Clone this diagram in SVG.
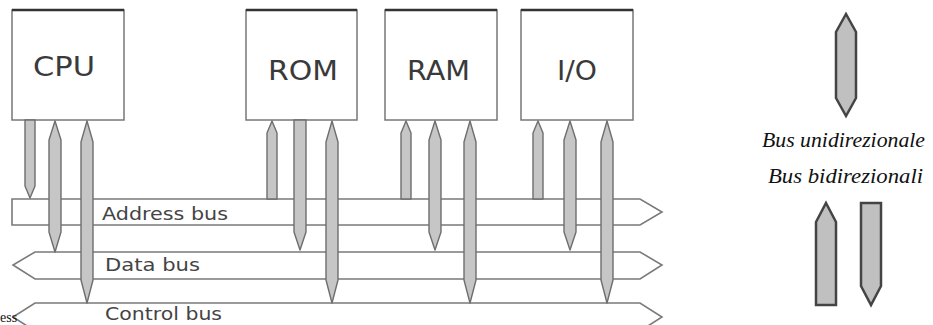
<svg xmlns="http://www.w3.org/2000/svg" width="933" height="325" viewBox="0 0 933 325">
<style>
.box{fill:#fff;stroke:#777;stroke-width:1.5}
.boxtop{stroke:#333;stroke-width:2.5}
.lbl{font-family:"DejaVu Sans","Liberation Sans",sans-serif;font-size:27px;fill:#3a3a3a}
.bus{fill:#fff;stroke:#7a7a7a;stroke-width:1.6;stroke-linejoin:miter}
.buslbl{font-family:"DejaVu Sans","Liberation Sans",sans-serif;font-size:18px;fill:#444}
.con{fill:#c6c6c6;stroke:#6e6e6e;stroke-width:1.4;stroke-linejoin:round}
.leg{fill:#c0c0c0;stroke:#444;stroke-width:2.5;stroke-linejoin:miter}
.legtxt{font-family:"Liberation Serif","Times New Roman",serif;font-style:italic;font-size:21px;fill:#111}
</style>
<g id="buses">
<g id="address-bus">
<path class="bus" d="M12,199 L640,199 L662,212 L640,225 L12,225 Z"/>
<text class="buslbl" x="102" y="220" textLength="126" lengthAdjust="spacingAndGlyphs">Address bus</text>
</g>
<g id="data-bus">
<path class="bus" d="M35,252 L640,252 L662,265 L640,279 L35,279 L13,265 Z"/>
<text class="buslbl" x="105" y="271" textLength="95" lengthAdjust="spacingAndGlyphs">Data bus</text>
</g>
<g id="control-bus">
<path class="bus" d="M35,303 L640,303 L662,317 L640,331 L35,331 L13,317 Z"/>
<text class="buslbl" x="105" y="320" textLength="117" lengthAdjust="spacingAndGlyphs">Control bus</text>
</g>
</g>
<g id="cpu">
<rect class="box" x="12" y="10" width="112" height="110"/>
<line class="boxtop" x1="12" y1="10" x2="124" y2="10"/>
<text class="lbl" x="33" y="76" textLength="62" lengthAdjust="spacingAndGlyphs">CPU</text>
</g>
<g id="rom">
<rect class="box" x="246" y="10" width="111" height="110"/>
<line class="boxtop" x1="246" y1="10" x2="357" y2="10"/>
<text class="lbl" x="268" y="80" textLength="70" lengthAdjust="spacingAndGlyphs">ROM</text>
</g>
<g id="ram">
<rect class="box" x="385" y="10" width="112" height="110"/>
<line class="boxtop" x1="385" y1="10" x2="497" y2="10"/>
<text class="lbl" x="407" y="80" textLength="63" lengthAdjust="spacingAndGlyphs">RAM</text>
</g>
<g id="io">
<rect class="box" x="521" y="10" width="112" height="110"/>
<line class="boxtop" x1="521" y1="10" x2="633" y2="10"/>
<text class="lbl" x="557" y="80" textLength="40" lengthAdjust="spacingAndGlyphs">I/O</text>
</g>
<g id="connectors">
<path class="con" d="M25,120 L35,120 L35,186 L30,198 L25,186 Z"/>
<path class="con" d="M55,121 L61,140 L61,232 L55,252 L49,232 L49,140 Z"/>
<path class="con" d="M87,121 L93,142 L93,280 L87,303 L81,280 L81,142 Z"/>
<path class="con" d="M272,121 L277,133 L277,199 L267,199 L267,133 Z"/>
<path class="con" d="M294,120 L306,120 L306,232 L300,250 L294,232 Z"/>
<path class="con" d="M332,121 L338,142 L338,280 L332,303 L326,280 L326,142 Z"/>
<path class="con" d="M406,121 L411,133 L411,199 L401,199 L401,133 Z"/>
<path class="con" d="M435,121 L441,140 L441,232 L435,250 L429,232 L429,140 Z"/>
<path class="con" d="M470,121 L476,142 L476,280 L470,303 L464,280 L464,142 Z"/>
<path class="con" d="M538,121 L543,133 L543,199 L533,199 L533,133 Z"/>
<path class="con" d="M570,121 L576,140 L576,232 L570,250 L564,232 L564,140 Z"/>
<path class="con" d="M607,121 L613,142 L613,280 L607,303 L601,280 L601,142 Z"/>
</g>
<g id="legend">
<path class="leg" d="M846,14 L856,32 L856,98 L846,116 L836,98 L836,32 Z"/>
<text class="legtxt" x="762" y="147" textLength="163" lengthAdjust="spacingAndGlyphs">Bus unidirezionale</text>
<text class="legtxt" x="768" y="183" textLength="155" lengthAdjust="spacingAndGlyphs">Bus bidirezionali</text>
<path class="leg" d="M826,203 L836,222 L836,305 L816,305 L816,222 Z"/>
<path class="leg" d="M861,203 L881,203 L881,286 L871,305 L861,286 Z"/>
</g>
<text x="0" y="322" font-family="'Liberation Serif','Times New Roman',serif" font-size="14" fill="#111">ess</text>
</svg>
